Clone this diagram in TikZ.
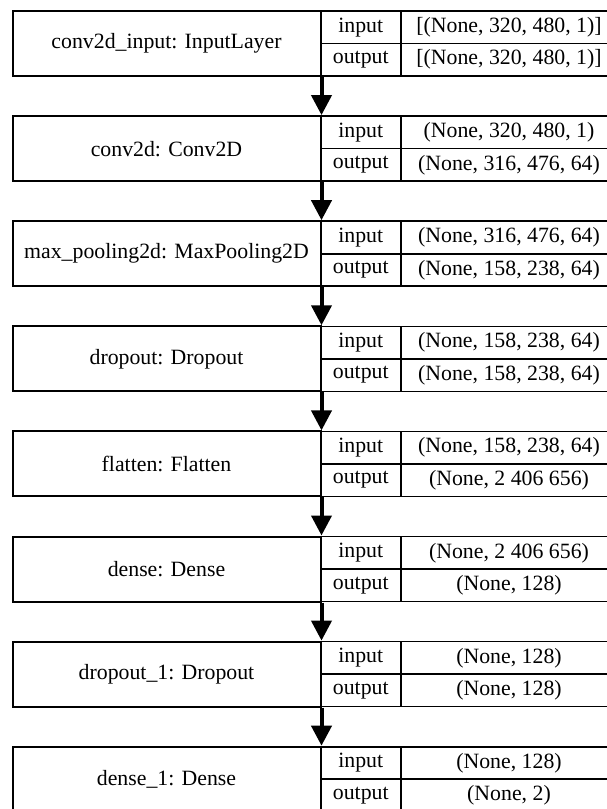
\documentclass[tikz,border=0pt]{standalone}
\usepackage{fontspec}
\setmainfont{Liberation Serif}
\usepackage{tikz}
\usetikzlibrary{arrows.meta}
\tikzstyle{layer}=[rectangle, draw=black, line width=2pt, inner sep=0pt, minimum width=308pt, minimum height=65pt]
\tikzstyle{key}=[rectangle, draw=black, line width=1.6pt, inner sep=0pt, minimum width=80.5pt, minimum height=32.5pt]
\tikzstyle{dims}=[rectangle, draw=black, line width=1.6pt, inner sep=0pt, minimum width=216pt, minimum height=32.5pt]
\tikzstyle{flow}=[draw=black, line width=4pt, -{Triangle[width=20pt,length=20pt]}]

\begin{document}
\begin{tikzpicture}[x=1pt, y=-1pt, font=\fontsize{21.8}{26}\selectfont]
			\useasboundingbox[fill=white] (0,0) rectangle (607,809);
			% conv2d_input
			\node[layer] (l1) at (166.5, 43.5) {conv2d\_input: InputLayer};
			\node[key] (l1in) at (360.75, 27.25) {input};
			\node[key] (l1out) at (360.75, 59.75) {output};
			\node[dims] (l1inv) at (509, 27.25) {[(None, 320, 480, 1)]};
			\node[dims] (l1outv) at (509, 59.75) {[(None, 320, 480, 1)]};
			% conv2d
			\node[layer] (l2) at (166.5, 148.6) {conv2d: Conv2D};
			\node[key] (l2in) at (360.75, 132.35) {input};
			\node[key] (l2out) at (360.75, 164.85) {output};
			\node[dims] (l2inv) at (509, 132.35) {(None, 320, 480, 1)};
			\node[dims] (l2outv) at (509, 164.85) {(None, 316, 476, 64)};
			% max_pooling2d
			\node[layer] (l3) at (166.5, 253.7) {max\_pooling2d: MaxPooling2D};
			\node[key] (l3in) at (360.75, 237.45) {input};
			\node[key] (l3out) at (360.75, 269.95) {output};
			\node[dims] (l3inv) at (509, 237.45) {(None, 316, 476, 64)};
			\node[dims] (l3outv) at (509, 269.95) {(None, 158, 238, 64)};
			% dropout
			\node[layer] (l4) at (166.5, 358.8) {dropout: Dropout};
			\node[key] (l4in) at (360.75, 342.55) {input};
			\node[key] (l4out) at (360.75, 375.05) {output};
			\node[dims] (l4inv) at (509, 342.55) {(None, 158, 238, 64)};
			\node[dims] (l4outv) at (509, 375.05) {(None, 158, 238, 64)};
			% flatten
			\node[layer] (l5) at (166.5, 463.9) {flatten: Flatten};
			\node[key] (l5in) at (360.75, 447.65) {input};
			\node[key] (l5out) at (360.75, 480.15) {output};
			\node[dims] (l5inv) at (509, 447.65) {(None, 158, 238, 64)};
			\node[dims] (l5outv) at (509, 480.15) {(None, 2 406 656)};
			% dense
			\node[layer] (l6) at (166.5, 569.0) {dense: Dense};
			\node[key] (l6in) at (360.75, 552.75) {input};
			\node[key] (l6out) at (360.75, 585.25) {output};
			\node[dims] (l6inv) at (509, 552.75) {(None, 2 406 656)};
			\node[dims] (l6outv) at (509, 585.25) {(None, 128)};
			% dropout_1
			\node[layer] (l7) at (166.5, 674.1) {dropout\_1: Dropout};
			\node[key] (l7in) at (360.75, 657.85) {input};
			\node[key] (l7out) at (360.75, 690.35) {output};
			\node[dims] (l7inv) at (509, 657.85) {(None, 128)};
			\node[dims] (l7outv) at (509, 690.35) {(None, 128)};
			% dense_1
			\node[layer] (l8) at (166.5, 779.2) {dense\_1: Dense};
			\node[key] (l8in) at (360.75, 762.95) {input};
			\node[key] (l8out) at (360.75, 795.45) {output};
			\node[dims] (l8inv) at (509, 762.95) {(None, 128)};
			\node[dims] (l8outv) at (509, 795.45) {(None, 2)};
			% arrows
			\path[flow] (l1.south east) -- (l2.north east);
			\path[flow] (l2.south east) -- (l3.north east);
			\path[flow] (l3.south east) -- (l4.north east);
			\path[flow] (l4.south east) -- (l5.north east);
			\path[flow] (l5.south east) -- (l6.north east);
			\path[flow] (l6.south east) -- (l7.north east);
			\path[flow] (l7.south east) -- (l8.north east);
		\end{tikzpicture}
\end{document}
